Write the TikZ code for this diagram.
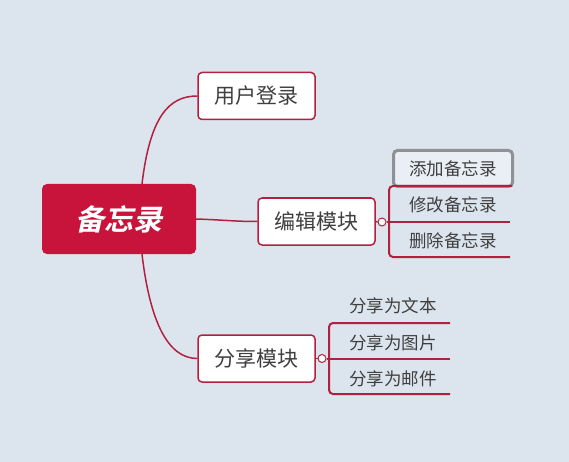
\documentclass[tikz,border=0pt]{standalone}
\usepackage{fontspec}
\newfontfamily\cjk{Noto Sans CJK SC}
\newfontfamily\rootfont[FakeSlant=0.22]{Noto Sans CJK SC Bold}
\definecolor{bg}{HTML}{DCE5EE}
\definecolor{crim}{HTML}{C8143A}
\definecolor{edge}{HTML}{B3203F}
\definecolor{txt}{HTML}{3F3F3F}
\definecolor{sel}{HTML}{8E9196}
\tikzset{
  topic/.style={draw=edge, line width=1.5pt, fill=white, rounded corners=4pt, minimum width=117pt, minimum height=47pt, font=\cjk\fontsize{21}{24}\selectfont, text=txt, inner sep=0pt},
  sub/.style={font=\cjk\fontsize{17.5}{20}\selectfont, text=txt, inner sep=0pt},
  conn/.style={draw=edge, line width=1.5pt},
  brk/.style={draw=edge, line width=2pt},
  knob/.style={circle, draw=edge, fill=white, line width=1pt, minimum size=8pt, inner sep=0pt}
}
\begin{document}
\begin{tikzpicture}[x=1pt,y=-1pt]
\fill[bg] (0,0) rectangle (569,462);
\useasboundingbox (0,0) rectangle (569,462);
% root
\node[fill=crim, rounded corners=5pt, minimum width=154pt, minimum height=70pt, inner sep=0pt, text=white, font=\rootfont\fontsize{29}{32}\selectfont] (root) at (119,219) {备忘录};
% main topics
\node[topic] (login) at (256.5,96) {用户登录};
\node[topic] (edit) at (316.5,221.5) {编辑模块};
\node[topic] (share) at (256.5,358.5) {分享模块};
% connectors
\draw[conn] ([xshift=23pt]root.north) .. controls (150,118) and (168,96) .. (login.west);
\draw[conn] (root.east) .. controls (225,220) and (235,221.5) .. (edit.west);
\draw[conn] ([xshift=23pt]root.south) .. controls (150,322) and (168,358.5) .. (share.west);
% knobs
\node[knob] (k1) at (382,222) {};
\node[knob] (k2) at (322,358.5) {};
\draw[conn] (edit.east) -- (k1.west);
\draw[conn] (share.east) -- (k2.west);
% edit sub-branches
\coordinate (e0) at (389,222);
\coordinate (e1a) at (389,186);
\coordinate (e1b) at (512,186);
\coordinate (e2b) at (510,222);
\coordinate (e3a) at (389,257);
\coordinate (e3b) at (510,257);
\node[draw=sel, line width=3pt, rounded corners=4pt, fill=bg!60!white, minimum width=119pt, minimum height=36pt] (selbox) at (453,168.5) {};
\draw[brk] (k1.east) -- (e0) -- (e2b);
\draw[brk, rounded corners=4pt] (e1b) -- (e1a) -- (e3a) -- (e3b);
\node[sub] (s1) at (453,169) {添加备忘录};
\node[sub] (s2) at (453,205) {修改备忘录};
\node[sub] (s3) at (453,241) {删除备忘录};
% share sub-branches
\coordinate (f0) at (329,358.5);
\coordinate (f1a) at (329,323);
\coordinate (f1b) at (450,323);
\coordinate (f2b) at (450,358.5);
\coordinate (f3a) at (329,394);
\coordinate (f3b) at (450,394);
\draw[brk] (k2.east) -- (f0) -- (f2b);
\draw[brk, rounded corners=4pt] (f1b) -- (f1a) -- (f3a) -- (f3b);
\node[sub] (t1) at (393,306) {分享为文本};
\node[sub] (t2) at (393,343) {分享为图片};
\node[sub] (t3) at (393,379) {分享为邮件};
\end{tikzpicture}
\end{document}
